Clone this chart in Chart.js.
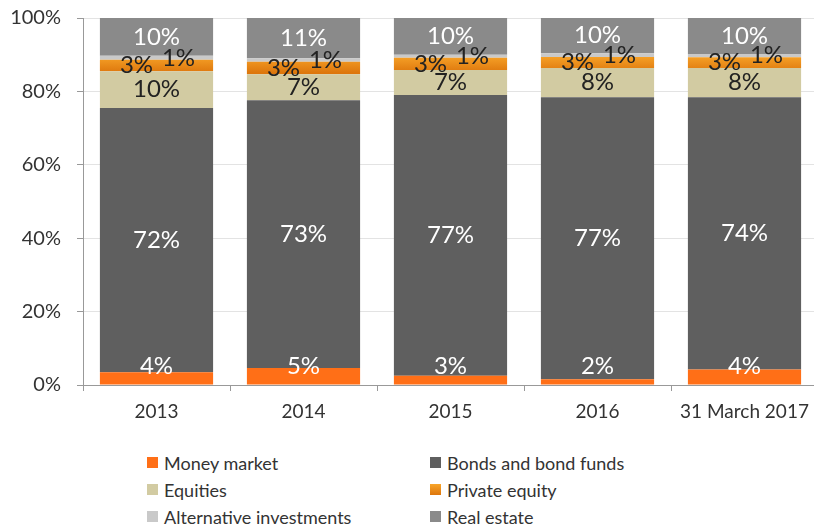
<!DOCTYPE html>
<html>
<head>
<meta charset="utf-8">
<script src="https://cdn.jsdelivr.net/npm/chart.js@4.4.0/dist/chart.umd.min.js"></script>
<style>
    body { margin: 0; background: #fff; overflow: hidden; font-family: Lato, sans-serif; }
    #wrap { position: absolute; left: 0; top: 0; width: 820px; height: 440px; }
    #legend { position: absolute; left: 147px; top: 449px; display: grid; grid-template-columns: 283px 283px; grid-auto-rows: 27px; }
    .item { display: flex; align-items: center; font-size: 18px; color: #333; }
    .box { width: 11px; height: 11px; margin-right: 6px; }
</style>
</head>
<body>
<div id="wrap"><canvas id="myChart"></canvas></div>
<div id="legend"></div>
<script>
// Datos (porcentajes)
const categorias = ['2013', '2014', '2015', '2016', '31 March 2017'];
const nombres = ['Money market', 'Bonds and bond funds', 'Equities', 'Private equity', 'Alternative investments', 'Real estate'];
const moneyMarket = [3.5, 4.6, 2.5, 1.6, 4.2];
const bonos = [72.0, 73.0, 76.5, 76.8, 74.2];
const acciones = [10.0, 7.1, 6.8, 8.0, 8.0];
const privateEquity = [3.1, 3.4, 3.4, 3.0, 2.9];
const alternativas = [1.1, 0.9, 0.8, 1.0, 0.9];
const inmuebles = [10.3, 11.0, 10.0, 9.6, 9.8];
const ticksY = [0, 20, 40, 60, 80, 100];

const colores = ['#ff6f17', '#5f5f5f', '#d2cba2', '#ef8c18', '#c9c9c9', '#8a8a8a'];

// Estilo de etiquetas por serie
const estiloEtiquetas = [
    { color: '#ffffff', fijo: 5 },
    { color: '#ffffff' },
    { color: '#222222' },
    { color: '#222222', dx: -20 },
    { color: '#222222', dx: 22 },
    { color: '#ffffff' }
];

function gradientePE(context) {
    const chart = context.chart;
    if (!chart.chartArea) return colores[3];
    const y = chart.scales.y;
    const g = chart.ctx.createLinearGradient(0, y.getPixelForValue(90), 0, y.getPixelForValue(85));
    g.addColorStop(0, '#f8a52a');
    g.addColorStop(1, '#dd760c');
    return g;
}

const etiquetas = {
    id: 'etiquetas',
    afterDatasetsDraw(chart) {
        const ctx = chart.ctx;
        const y = chart.scales.y;
        ctx.save();
        ctx.font = '24px Lato';
        ctx.textAlign = 'center';
        ctx.textBaseline = 'middle';
        chart.data.datasets.forEach(function (ds, i) {
            const est = estiloEtiquetas[i];
            chart.getDatasetMeta(i).data.forEach(function (bar, j) {
                const py = est.fijo !== undefined ? y.getPixelForValue(est.fijo) : (bar.y + bar.base) / 2;
                ctx.fillStyle = est.color;
                ctx.fillText(Math.round(ds.data[j]) + '%', bar.x + (est.dx || 0), py);
            });
        });
        ctx.restore();
    }
};

const series = [moneyMarket, bonos, acciones, privateEquity, alternativas, inmuebles];

const ctx = document.getElementById('myChart').getContext('2d');
const myChart = new Chart(ctx, {
    type: 'bar',
    data: {
        labels: categorias,
        datasets: series.map(function (d, i) {
            return {
                label: nombres[i],
                data: d,
                backgroundColor: i === 3 ? gradientePE : colores[i],
                borderWidth: 0,
                categoryPercentage: 1,
                barPercentage: 0.77
            };
        })
    },
    options: {
        responsive: true,
        maintainAspectRatio: false,
        animation: false,
        layout: { padding: { top: 18, right: 2, left: 0, bottom: 0 } },
        plugins: { legend: { display: false }, tooltip: { enabled: false } },
        scales: {
            x: {
                stacked: true,
                grid: { offset: true, drawOnChartArea: false, tickLength: 6, tickColor: '#999' },
                border: { color: '#999' },
                ticks: { color: '#333', font: { family: 'Lato', size: 19 }, padding: 9, maxRotation: 0 },
                afterFit: function (scale) { scale.height = 55; scale.paddingLeft = 0; scale.paddingRight = 0; }
            },
            y: {
                stacked: true,
                min: 0,
                max: 100,
                afterBuildTicks: function (scale) { scale.ticks = ticksY.map(v => ({ value: v })); },
                grid: { color: '#e3e3e3', tickLength: 6, tickColor: '#999' },
                border: { color: '#999' },
                ticks: { color: '#333', font: { family: 'Lato', size: 20 }, padding: 16, callback: v => v + '%' },
                afterFit: function (scale) { scale.width = 83; scale.paddingTop = 0; scale.paddingBottom = 0; }
            }
        }
    },
    plugins: [etiquetas]
});

// Leyenda en HTML, dos columnas
const orden = [0, 1, 2, 3, 4, 5];
const leyenda = document.getElementById('legend');
orden.forEach(function (i) {
    const fondo = i === 3 ? 'linear-gradient(#f8a52a, #dd760c)' : colores[i];
    leyenda.innerHTML += '<div class="item"><span class="box" style="background:' + fondo + '"></span>' + nombres[i] + '</div>';
});
</script>
</body>
</html>
